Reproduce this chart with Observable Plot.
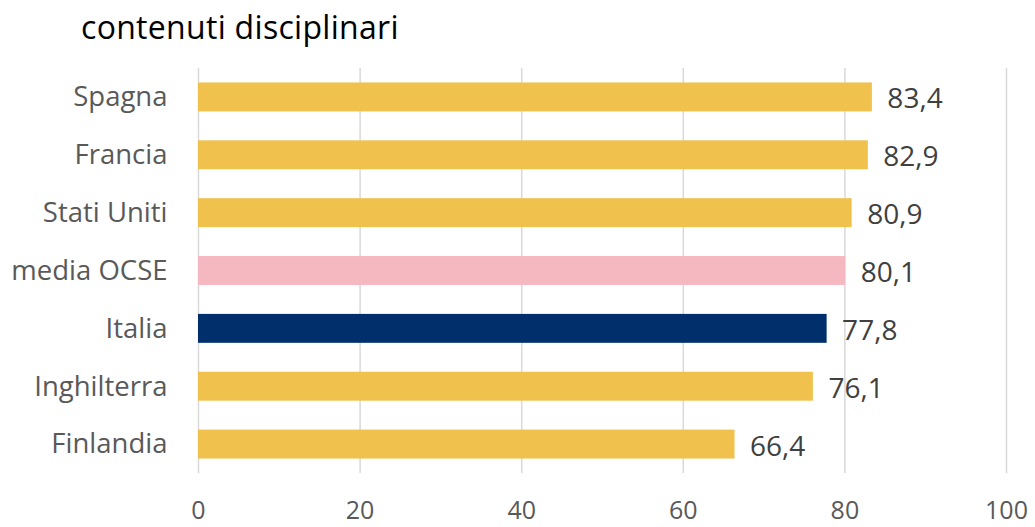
<!DOCTYPE html>
<html>
<head>
<meta charset="utf-8">
<script src="https://cdn.jsdelivr.net/npm/d3@7"></script>
<script src="https://cdn.jsdelivr.net/npm/@observablehq/plot@0.6"></script>
<style>
  body { margin: 0; background: #fff; }
  #title { height: 50px; font-family: "Open Sans", sans-serif; font-size: 32px; letter-spacing: 0.3px; color: #000; padding-left: 81px; line-height: 54px; box-sizing: border-box; white-space: nowrap; }
</style>
</head>
<body>
<div id="title">contenuti disciplinari</div>
<div id="chart"></div>
<script>
const countries = ["Spagna", "Francia", "Stati Uniti", "media OCSE", "Italia", "Inghilterra", "Finlandia"];
const values = [83.4, 82.9, 80.9, 80.1, 77.8, 76.1, 66.4];
const colors = ["#F0C14D", "#F0C14D", "#F0C14D", "#F5B8C1", "#002F6C", "#F0C14D", "#F0C14D"];
const xTicks = [0, 20, 40, 60, 80, 100];

const data = countries.map((c, i) => ({country: c, value: values[i], color: colors[i]}));
const fmt = v => v.toFixed(1).replace(".", ",");

const chart = Plot.plot({
  width: 1035,
  height: 477,
  marginTop: 18,
  marginBottom: 54,
  marginLeft: 198,
  marginRight: 29,
  style: {fontFamily: "'Open Sans', sans-serif", background: "#fff"},
  x: {domain: [0, 100], ticks: xTicks, label: null},
  y: {domain: countries, paddingInner: 0.5, paddingOuter: 0.25, round: false, label: null},
  marks: [
    Plot.ruleX(xTicks, {stroke: "#d9d9d9", strokeWidth: 1.5}),
    Plot.barX(data, {y: "country", x: "value", fill: "color"}),
    Plot.text(data, {y: "country", x: "value", text: d => fmt(d.value), textAnchor: "start", dx: 15, dy: 2, fontSize: 28, fill: "#404040"}),
    Plot.axisY({tickSize: 0, tickPadding: 31, fontSize: 27.5, color: "#595959", label: null}),
    Plot.axisX({ticks: xTicks, tickSize: 0, tickPadding: 28, fontSize: 25, color: "#595959", label: null})
  ]
});
document.getElementById("chart").appendChild(chart);
</script>
</body>
</html>
